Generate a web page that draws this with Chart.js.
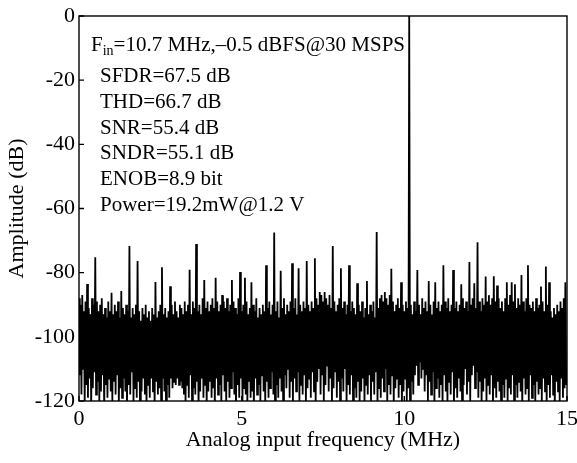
<!DOCTYPE html>
<html>
<head>
<meta charset="utf-8">
<script src="https://cdn.jsdelivr.net/npm/chart.js@4"></script>
<style>
html,body{margin:0;padding:0;background:#fff;}
#wrap{width:577px;height:463px;}
</style>
</head>
<body>
<div id="wrap"><canvas id="c" width="577" height="463"></canvas></div>
<script>
// ---- data ----
const xTicks = [0, 5, 10, 15];
const yTicks = [0, -20, -40, -60, -80, -100, -120];
const binWidthMHz = 0.05; // spectrum bin spacing (MHz)

// upper envelope of each bin (dB), incl. spurs and the fundamental (0 dB at ~10.15 MHz)
const upperDb = [
 -88,-90,-87,-92,-89,-83.5,-91,-93,-88,-90,-75.2,-89,-92,-90,-88,-93,-91,-94,-89,-92,
 -86.3,-93,-90,-92,-89,-94,-85.7,-91,-93,-90,-92,-71.7,-94,-91,-93,-90,-76.4,-92,-95,-91,
 -93,-90,-94,-92,-95,-91,-93,-82.9,-94,-92,-90,-78.3,-93,-91,-94,-92,-84.2,-90,-93,-89,
 -92,-94,-90,-91,-93,-89,-92,-90,-79.1,-93,-89,-91,-71.1,-92,-90,-93,-88,-82.3,-91,-89,
 -92,-90,-88,-91,-81.6,-89,-92,-90,-87,-89,-91,-88,-92,-90,-82.3,-89,-91,-93,-88,-79.8,
 -92,-90,-81.6,-89,-93,-91,-83,-90,-92,-88,-94,-91,-93,-90,-92,-77.7,-91,-89,-93,-90,
 -67.5,-92,-89,-94,-79.4,-91,-88,-93,-90,-92,-89,-77.1,-91,-88,-93,-78.6,-90,-92,-89,-91,
 -76.4,-90,-92,-89,-91,-75.5,-88,-90,-86,-87,-89,-86,-88,-90,-87,-91,-71.7,-89,-92,-90,
 -88,-78.6,-91,-89,-93,-90,-77.7,-92,-89,-91,-93,-83.3,-90,-92,-89,-94,-91,-82.6,-93,-90,
 -92,-89,-94,-67.3,-91,-88,-87,-89,-86,-88,-90,-87,-78.8,-89,-92,-90,-88,-91,-83,-90,
 -92,-89,-91,0,-90,-93,-89,-92,-79.2,-90,-93,-88,-91,-89,-92,-82.6,-90,-93,-89,-83,
 -91,-89,-92,-90,-77.7,-89,-91,-88,-92,-90,-79.2,-91,-89,-92,-90,-83.6,-88,-91,-89,-92,
 -76.7,-90,-88,-83.3,-91,-70.5,-89,-92,-88,-90,-81.2,-89,-87,-90,-88,-81.1,-89,-84,-88,-91,
 -89,-92,-88,-83,-90,-87,-83,-89,-83.6,-91,-88,-90,-80.7,-89,-92,-88,-77.7,-90,-91,-89,
 -92,-88,-91,-90,-84.3,-89,-92,-78.1,-90,-83,-92,-94,-91,-93,-90,-92,-89,-91,-88,-83
];
// lower envelope of each bin (dB)
const lowerDb = [
 -112,-118,-110,-121,-115,-119,-113,-122,-116,-111,-118,-114,-120,-117,-112,-123,-115,-119,-113,-117,
 -120,-114,-118,-112,-121,-116,-119,-113,-117,-122,-115,-118,-111,-120,-116,-119,-114,-122,-117,-113,
 -118,-121,-115,-119,-113,-117,-122,-114,-118,-116,-120,-113,-117,-121,-115,-119,-113,-116,-114,-115,
 -113,-115,-114,-116,-118,-121,-115,-119,-112,-120,-116,-118,-114,-122,-117,-113,-119,-115,-121,-117,
 -114,-119,-116,-122,-113,-118,-115,-120,-112,-117,-121,-114,-119,-116,-111,-118,-122,-115,-119,-113,
 -120,-116,-118,-121,-114,-119,-117,-123,-113,-118,-115,-120,-112,-117,-121,-114,-119,-116,-111,-118,
 -122,-115,-119,-113,-117,-120,-112,-116,-110,-119,-114,-121,-113,-117,-111,-120,-115,-118,-112,-121,
 -116,-113,-119,-111,-117,-121,-114,-110,-118,-112,-120,-115,-109,-117,-113,-121,-116,-111,-119,-114,
 -120,-113,-117,-110,-121,-115,-118,-112,-122,-116,-119,-114,-120,-117,-113,-121,-115,-118,-112,-120,
 -114,-118,-111,-121,-116,-119,-113,-117,-110,-120,-115,-118,-112,-121,-116,-113,-119,-115,-121,-117,
 -113,-120,-116,-121,-114,-118,-112,-109,-115,-108,-113,-110,-117,-112,-120,-114,-118,-111,-121,-116,
 -113,-119,-115,-121,-112,-117,-120,-114,-118,-111,-122,-116,-119,-113,-117,-121,-115,-110,-118,-114,
 -120,-112,-109,-116,-111,-119,-114,-121,-117,-113,-120,-115,-118,-112,-121,-116,-119,-114,-117,-122,
 -115,-119,-113,-120,-116,-118,-112,-121,-115,-119,-114,-117,-122,-113,-118,-116,-120,-112,-119,-115,
 -121,-114,-118,-116,-120,-113,-117,-121,-115,-119,-112,-118,-122,-114,-117,-120,-113,-119,-116,-115
];
const infoLines = ["SFDR=67.5 dB","THD=66.7 dB","SNR=55.4 dB","SNDR=55.1 dB","ENOB=8.9 bit","Power=19.2mW@1.2 V"];
const xTitle = "Analog input frequency (MHz)";
const yTitle = "Amplitude (dB)";

// ---- build the point table (each bin: top then bottom) ----
const points = [];
for (let i = 0; i < upperDb.length; i++) {
  points.push({x: i * binWidthMHz, y: upperDb[i]});
  points.push({x: i * binWidthMHz + binWidthMHz / 2, y: lowerDb[i]});
}

const FONT = "'Liberation Serif', 'Times New Roman', serif";

const framePlugin = {
  id: 'frame',
  afterDraw(chart) {
    const {ctx, chartArea: a, scales} = chart;
    ctx.save();
    ctx.strokeStyle = '#000';
    ctx.lineWidth = 1.4;
    ctx.strokeRect(a.left, a.top, a.right - a.left, a.bottom - a.top);
    // inward ticks
    ctx.beginPath();
    xTicks.forEach(v => {
      const px = scales.x.getPixelForValue(v);
      ctx.moveTo(px, a.bottom); ctx.lineTo(px, a.bottom - 5);
    });
    yTicks.forEach(v => {
      const py = scales.y.getPixelForValue(v);
      ctx.moveTo(a.left, py); ctx.lineTo(a.left + 5, py);
    });
    ctx.stroke();
    // annotation text
    ctx.fillStyle = '#000';
    ctx.textBaseline = 'alphabetic';
    ctx.textAlign = 'left';
    ctx.font = "21px " + FONT;
    let x = 91;
    ctx.fillText("F", x, 51);
    x += ctx.measureText("F").width;
    ctx.font = "14px " + FONT;
    ctx.fillText("in", x, 55);
    x += ctx.measureText("in").width;
    ctx.font = "21px " + FONT;
    ctx.fillText("=10.7 MHz,\u20130.5 dBFS@30 MSPS", x, 51);
    infoLines.forEach((t, k) => {
      ctx.fillText(t, 100, 82 + k * 25.8);
    });
    ctx.restore();
  }
};

new Chart(document.getElementById('c'), {
  type: 'line',
  data: {
    datasets: [{
      data: points,
      borderColor: '#000',
      borderWidth: 1.8,
      pointRadius: 0,
      tension: 0,
      fill: false
    }]
  },
  options: {
    responsive: false,
    animation: false,
    events: [],
    layout: {padding: {top: 16, right: 10, left: 0, bottom: 0}},
    plugins: {legend: {display: false}, tooltip: {enabled: false}},
    scales: {
      x: {
        type: 'linear', min: 0, max: 15,
        afterBuildTicks: s => { s.ticks = xTicks.map(v => ({value: v})); },
        afterFit: s => { s.height = 62; s.paddingLeft = 0; s.paddingRight = 0; },
        grid: {display: false, drawTicks: false},
        border: {display: false},
        ticks: {color: '#000', font: {family: FONT, size: 22}, padding: 5, maxRotation: 0, autoSkip: false},
        title: {display: true, text: xTitle, color: '#000', font: {family: FONT, size: 22}, padding: {top: 0, bottom: 10}}
      },
      y: {
        type: 'linear', min: -120, max: 0,
        afterBuildTicks: s => { s.ticks = yTicks.map(v => ({value: v})); },
        afterFit: s => { s.width = 79; s.paddingTop = 0; s.paddingBottom = 0; },
        grid: {display: false, drawTicks: false},
        border: {display: false},
        ticks: {color: '#000', font: {family: FONT, size: 22}, padding: 4, autoSkip: false},
        title: {display: true, text: yTitle, color: '#000', font: {family: FONT, size: 22}, padding: {top: 4, bottom: 0}}
      }
    }
  },
  plugins: [framePlugin]
});
</script>
</body>
</html>
